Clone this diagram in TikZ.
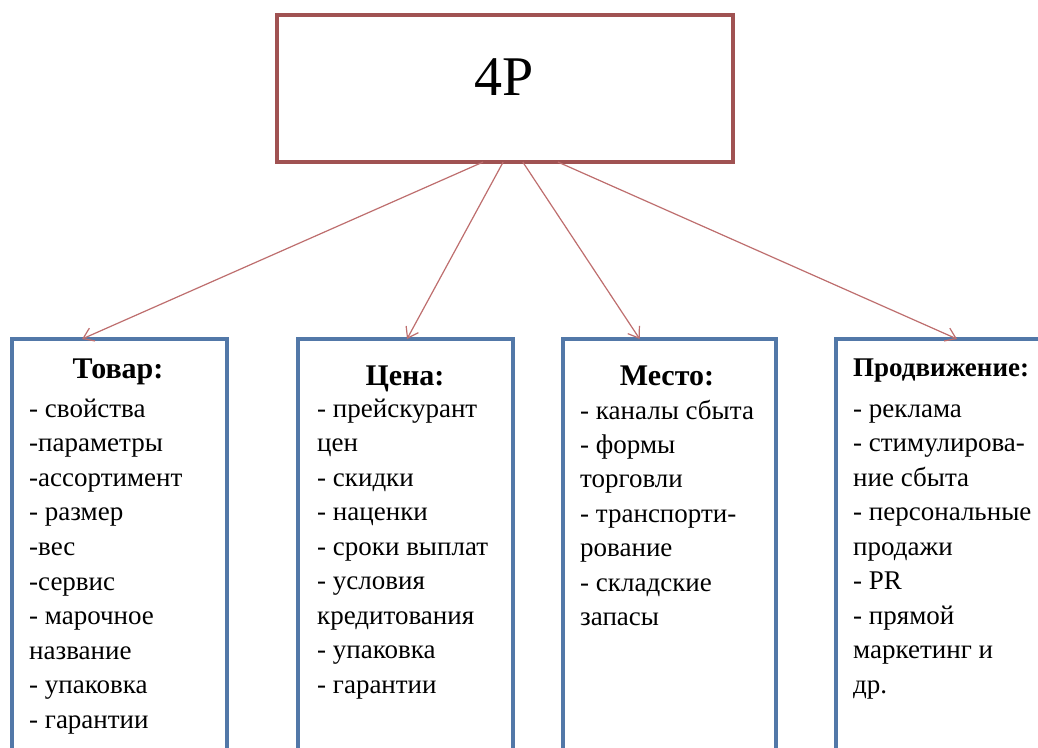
\documentclass[tikz,border=0pt]{standalone}
\usepackage{fontspec}
\setmainfont{Liberation Serif}
\usetikzlibrary{arrows.meta,calc}
\definecolor{boxred}{RGB}{160,82,82}
\definecolor{arrowred}{RGB}{190,110,110}
\definecolor{boxblue}{RGB}{82,120,168}
\tikzset{
  topbox/.style={draw=boxred, line width=4pt, rectangle, outer sep=0pt, inner sep=0pt,
    anchor=north west, minimum width=456pt, minimum height=147pt},
  pbox/.style={draw=boxblue, line width=3.5pt, rectangle, outer sep=0pt, inner sep=0pt,
    anchor=north west, minimum width=215pt, minimum height=450pt},
  head/.style={font=\bfseries\fontsize{30}{32}\selectfont, inner sep=0pt, anchor=base},
  item/.style={font=\fontsize{27}{29}\selectfont, inner sep=0pt, anchor=base west},
  link/.style={arrowred, line width=1.2pt, -{Straight Barb[length=10pt,width=14pt]}}
}

\begin{document}
\begin{tikzpicture}[x=1pt,y=-1pt]
\clip (0,0) rectangle (1038,747);
\fill[white] (0,0) rectangle (1038,747);

% top box
\node[topbox] (fourp) at (277,15) {};
\node[font=\fontsize{56}{60}\selectfont, inner sep=0pt, anchor=base] (fourptext) at (504,95) {4P};

% the four boxes
\node[pbox] (tovar) at (12,339) {};
\node[pbox] (tsena) at (298,339) {};
\node[pbox, minimum width=213pt] (mesto) at (563,339) {};
\node[pbox] (prodv) at (836,339) {};

% headings
\node[head] (tovarhead) at (118,378) {Товар:};
\node[head] (tsenahead) at (405,385) {Цена:};
\node[head] (mestohead) at (667,385) {Место:};
\node[head, anchor=base west, font=\bfseries\fontsize{27}{29}\selectfont] (prodvhead) at (853,376) {Продвижение:};

% items
\foreach \t [count=\i] in {- свойства, -параметры, -ассортимент, - размер, -вес, -сервис,
    - марочное, название, - упаковка, - гарантии}
  \node[item] (tovar-\i) at (29,{417+34.6*(\i-1)}) {\t};
\foreach \t [count=\i] in {- прейскурант, цен, - скидки, - наценки, - сроки выплат,
    - условия, кредитования, - упаковка, - гарантии}
  \node[item] (tsena-\i) at (317,{417+34.5*(\i-1)}) {\t};
\foreach \t [count=\i] in {- каналы сбыта, - формы, торговли, - транспорти-, рование,
    - складские, запасы}
  \node[item] (mesto-\i) at (580,{419+34.4*(\i-1)}) {\t};
\foreach \t [count=\i] in {- реклама, - стимулирова-, ние сбыта, - персональные, продажи,
    - PR, - прямой, маркетинг и, др.}
  \node[item] (prodv-\i) at (853,{417+34.5*(\i-1)}) {\t};

% arrows
\draw[link] ($(fourp.south west)!0.452!(fourp.south east)$) -- ($(tovar.north west)!0.326!(tovar.north east)$);
\draw[link] ($(fourp.south west)!0.496!(fourp.south east)$) -- ($(tsena.north west)!0.507!(tsena.north east)$);
\draw[link] ($(fourp.south west)!0.539!(fourp.south east)$) -- ($(mesto.north west)!0.36!(mesto.north east)$);
\draw[link] ($(fourp.south west)!0.616!(fourp.south east)$) -- ($(prodv.north west)!0.563!(prodv.north east)$);
\end{tikzpicture}
\end{document}
